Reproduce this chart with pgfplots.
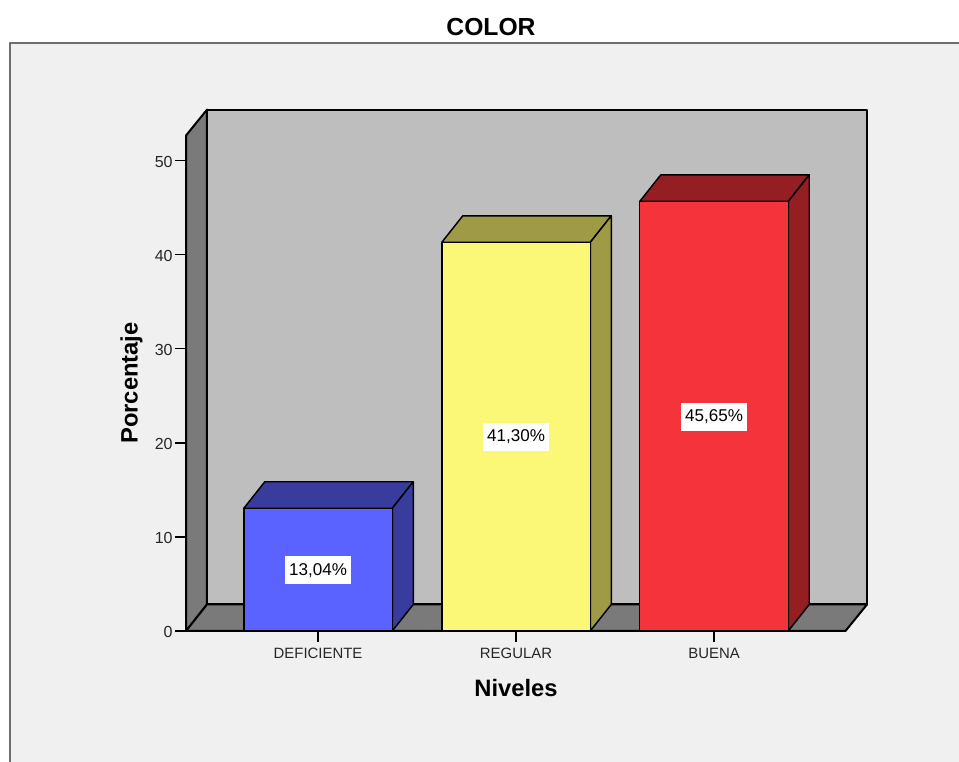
\documentclass[border=0pt]{standalone}
\usepackage{fontspec}
\setmainfont{Liberation Sans}
\usepackage{pgfplots}
\pgfplotsset{compat=1.18}

\definecolor{panel}{HTML}{F0F0F0}
\definecolor{frameline}{HTML}{6E6E6E}
\definecolor{wallback}{HTML}{BEBEBE}
\definecolor{wallside}{HTML}{7A7A7A}
\definecolor{bluefront}{HTML}{5A62FF}
\definecolor{blueshade}{HTML}{383C9C}
\definecolor{yellowfront}{HTML}{FBF877}
\definecolor{yellowshade}{HTML}{9E9A45}
\definecolor{redfront}{HTML}{F4333A}
\definecolor{redshade}{HTML}{941E22}

\begin{document}
\begin{tikzpicture}[line join=round]
    \path[use as bounding box] (0pt,0pt) rectangle (719.25pt,571.5pt);
    \fill[panel] (7.5pt,0pt) rectangle (719.25pt,539.25pt);
    \draw[frameline, line width=1.5pt] (7.5pt,0pt) -- (7.5pt,539.25pt) -- (719.25pt,539.25pt);
    \begin{axis}[
        at={(139.5pt,98.25pt)}, anchor=south west,
        scale only axis, width=494.6pt, height=371.6pt,
        clip=false, axis on top,
        xmin=-0.667, xmax=2.664, ymin=0, ymax=52.65,
        axis lines*=left,
        axis line style={-, line width=1.5pt},
        tick align=outside, major tick length=8pt,
        tick style={black, line width=1.2pt},
        xtick={0,1,2}, xticklabels={DEFICIENTE,REGULAR,BUENA},
        ytick={0,10,20,30,40,50},
        /pgf/number format/assume math mode=true,
        tick label style={text=black!85},
        xticklabel style={font=\fontsize{11.2}{13}\selectfont, yshift=-1.5pt},
        yticklabel style={font=\fontsize{12}{14}\selectfont, xshift=1.5pt, yshift=-1pt},
        title={COLOR},
        title style={at={(axis description cs:0.4625,1.203)}, anchor=center, font=\fontsize{18.5}{22}\selectfont\bfseries},
        xlabel={Niveles},
        every axis x label/.style={at={(axis description cs:0.5004,-0.115)}, anchor=center, font=\fontsize{17.8}{21}\selectfont\bfseries},
        ylabel={Porcentaje},
        every axis y label/.style={at={(axis description cs:-0.0825,0.5005)}, anchor=center, rotate=90, font=\fontsize{17.8}{21}\selectfont\bfseries},
    ]
        % walls and floor
        \addplot[draw=black, line width=1.5pt, line join=round, fill=wallback] coordinates {(-0.561,2.82) (2.773,2.82) (2.773,55.4) (-0.561,55.4)} -- cycle;
        \addplot[draw=black, line width=1.5pt, line join=round, fill=wallside] coordinates {(-0.667,0) (-0.561,2.82) (-0.561,55.4) (-0.667,52.65)} -- cycle;
        \addplot[draw=black, line width=1.5pt, line join=round, fill=wallside] coordinates {(-0.667,0) (2.664,0) (2.773,2.82) (-0.561,2.82)} -- cycle;

        % DEFICIENTE
        \addplot[draw=black, line width=1.1pt, line join=round, fill=blueshade] coordinates {(-0.375,13.04) (0.375,13.04) (0.481,15.86) (-0.269,15.86)} -- cycle;
        \addplot[draw=black, line width=1.1pt, line join=round, fill=blueshade] coordinates {(0.375,0) (0.481,2.82) (0.481,15.86) (0.375,13.04)} -- cycle;
        \addplot[ybar, bar width=111.4pt, draw=black, line width=1.1pt, fill=bluefront] coordinates {(0,13.04)};

        % REGULAR
        \addplot[draw=black, line width=1.1pt, line join=round, fill=yellowshade] coordinates {(0.625,41.30) (1.375,41.30) (1.481,44.12) (0.731,44.12)} -- cycle;
        \addplot[draw=black, line width=1.1pt, line join=round, fill=yellowshade] coordinates {(1.375,0) (1.481,2.82) (1.481,44.12) (1.375,41.30)} -- cycle;
        \addplot[ybar, bar width=111.4pt, draw=black, line width=1.1pt, fill=yellowfront] coordinates {(1,41.30)};

        % BUENA
        \addplot[draw=black, line width=1.1pt, line join=round, fill=redshade] coordinates {(1.625,45.65) (2.375,45.65) (2.481,48.47) (1.731,48.47)} -- cycle;
        \addplot[draw=black, line width=1.1pt, line join=round, fill=redshade] coordinates {(2.375,0) (2.481,2.82) (2.481,48.47) (2.375,45.65)} -- cycle;
        \addplot[ybar, bar width=111.4pt, draw=black, line width=1.1pt, fill=redfront] coordinates {(2,45.65)};

        % value labels
        \tikzset{vallabel/.style={fill=white, inner sep=0pt, minimum width=49.5pt, minimum height=21pt, font=\fontsize{12.8}{15}\selectfont}}
        \node[vallabel] at (axis cs:0,6.45) {13,04\%};
        \node[vallabel] at (axis cs:1,20.6) {41,30\%};
        \node[vallabel] at (axis cs:2,22.75) {45,65\%};
    \end{axis}
\end{tikzpicture}
\end{document}
